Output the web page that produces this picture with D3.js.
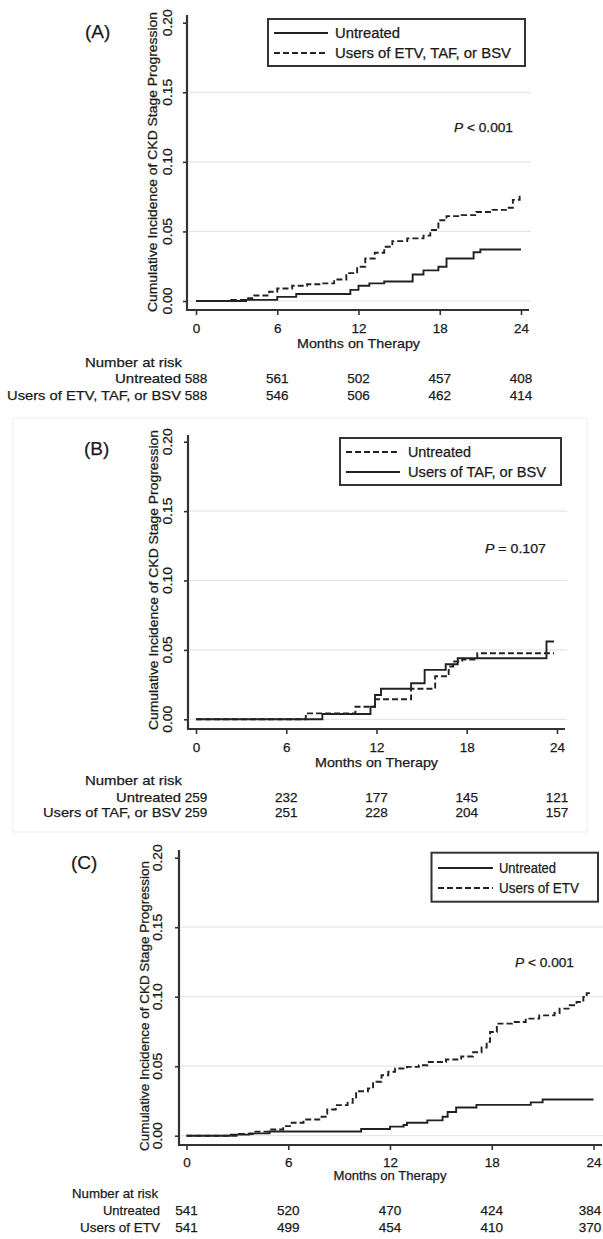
<!DOCTYPE html>
<html>
<head>
<meta charset="utf-8">
<script src="https://cdn.jsdelivr.net/npm/d3@7"></script>
<style>
html,body{margin:0;padding:0;background:#fff;}
svg{display:block;}
text{font-family:"Liberation Sans",Arial,sans-serif;fill:#1a1a1a;stroke:#1a1a1a;stroke-width:0.25px;}
</style>
</head>
<body>
<svg id="chart" width="603" height="1239"></svg>
<script>
// ---------- DATA ----------
const monthTicks = [0, 6, 12, 18, 24];
const yTicks = [0, 0.05, 0.10, 0.15, 0.20];
const yTickLabels = ["0.00", "0.05", "0.10", "0.15", "0.20"];
const gridValues = [0, 0.05, 0.10, 0.15];
const panelLabels = ["(A)", "(B)", "(C)"];
const pValues = ["P < 0.001", "P = 0.107", "P < 0.001"];
const yTitle = "Cumulative Incidence of CKD Stage Progression";
const xTitle = "Months on Therapy";
const riskTitle = "Number at risk";

// Panel A
const legendA = ["Untreated", "Users of ETV, TAF, or BSV"];
const untreatedA = [[0,0],[3.7,0.0008],[6,0.003],[7.4,0.005],[11.4,0.008],[12,0.011],[12.8,0.0127],[13.9,0.014],[16,0.019],[16.8,0.022],[17.9,0.0246],[18.5,0.0305],[20.5,0.035],[21,0.037],[24,0.037]];
const usersA = [[0,0],[2.6,0.0008],[3.7,0.002],[4.3,0.004],[5.4,0.0067],[6,0.009],[7.1,0.011],[8.2,0.012],[9.4,0.0127],[10.2,0.0155],[11.1,0.02],[11.9,0.0246],[12.5,0.0305],[13.2,0.0347],[13.9,0.039],[14.5,0.043],[15.6,0.045],[16.8,0.047],[17.3,0.051],[17.9,0.058],[18.5,0.061],[19.6,0.0617],[20.7,0.064],[21.9,0.0655],[23,0.067],[23.4,0.0727],[23.9,0.076],[24,0.076]];
const riskRowsA = ["Untreated", "Users of ETV, TAF, or BSV"];
const riskUntreatedA = [588, 561, 502, 457, 408];
const riskUsersA = [588, 546, 506, 462, 414];

// Panel B
const legendB = ["Untreated", "Users of TAF, or BSV"];
const untreatedB = [[0,0],[7.3,0.0043],[10.6,0.009],[11.9,0.0144],[14.3,0.022],[15.9,0.031],[16.8,0.038],[17.1,0.0416],[17.7,0.043],[18.7,0.0476],[23.8,0.0476]];
const usersB = [[0,0],[8.4,0.0038],[11.6,0.009],[11.9,0.0175],[12.3,0.022],[14.3,0.026],[15.2,0.0356],[16.6,0.0397],[17.4,0.044],[23.3,0.056],[23.8,0.056]];
const riskRowsB = ["Untreated", "Users of TAF, or BSV"];
const riskUntreatedB = [259, 232, 177, 145, 121];
const riskUsersB = [259, 251, 228, 204, 157];

// Panel C
const legendC = ["Untreated", "Users of ETV"];
const untreatedC = [[0,0],[2.6,0.0008],[3.7,0.0017],[4.9,0.003],[10.3,0.0048],[12,0.0065],[12.8,0.0077],[13,0.0093],[14.2,0.011],[15.1,0.0136],[15.4,0.017],[15.9,0.0203],[17.1,0.0222],[20.3,0.024],[21,0.026],[24,0.026]];
const usersC = [[0,0],[3.1,0.0012],[4,0.0029],[4.9,0.0045],[5.7,0.0069],[6.2,0.0093],[6.9,0.0117],[7.9,0.0136],[8.3,0.0189],[8.8,0.022],[9.5,0.0237],[9.8,0.0275],[10,0.032],[10.7,0.034],[11,0.0388],[11.5,0.0435],[11.9,0.046],[12.3,0.0483],[13,0.0495],[13.7,0.0507],[14.2,0.053],[15.3,0.0548],[16.2,0.057],[16.9,0.06],[17.4,0.0634],[17.7,0.0675],[17.9,0.0746],[18.3,0.0806],[19.2,0.0818],[20,0.0842],[20.8,0.0866],[21.7,0.0883],[22,0.0914],[22.6,0.0938],[23,0.0962],[23.4,0.0998],[23.6,0.1026],[23.8,0.1026]];
const riskRowsC = ["Untreated", "Users of ETV"];
const riskUntreatedC = [541, 520, 470, 424, 384];
const riskUsersC = [541, 499, 454, 410, 370];

// ---------- LAYOUT ----------
const svg = d3.select("#chart");

// faint frame around panel B (scan artifact)
svg.append("rect").attr("x", 13).attr("y", 418).attr("width", 574).attr("height", 414)
  .attr("fill", "none").attr("stroke", "#eeeeee").attr("stroke-width", 1);

const panels = [
  { label: panelLabels[0], labelX: 85, labelY: 38,
    axisX: 187, x0: 196, x24: 521, xEnd: 529, y0: 301, y20: 22.7, yTop: 15, xAxisY: 310,
    yTitleX: 153, yTitleMid: 162, yTitleLen: 300, tickLabelX: 168,
    xLabelY: 328, xTitleY: 343, xTitleLen: 123,
    legend: { x1: 268, x2: 525, y1: 19, y2: 66, lx1: 274, lx2: 328, tx: 335, rows: [33, 53], lens: [65, 176] },
    entries: legendA, series: [untreatedA, usersA], dashed: [false, true],
    p: pValues[0], pX: 454, pY: 132, pLen: 59,
    riskTitleX: 85, riskTitleY: 362, riskTitleLen: 97, riskRowY: [378, 395], riskLabelRight: 181,
    riskLabelLens: [66, 174],
    riskLabels: riskRowsA, riskVals: [riskUntreatedA, riskUsersA] },
  { label: panelLabels[1], labelX: 84, labelY: 455,
    axisX: 188, x0: 196, x24: 557, xEnd: 565, y0: 719.3, y20: 441.7, yTop: 435, xAxisY: 729,
    yTitleX: 154, yTitleMid: 580, yTitleLen: 300, tickLabelX: 168,
    xLabelY: 747, xTitleY: 762, xTitleLen: 123,
    legend: { x1: 340, x2: 561, y1: 438, y2: 485, lx1: 346, lx2: 400, tx: 408, rows: [452, 472], lens: [63, 138] },
    entries: legendB, series: [untreatedB, usersB], dashed: [true, false],
    p: pValues[1], pX: 485, pY: 553, pLen: 61,
    riskTitleX: 85, riskTitleY: 780, riskTitleLen: 97, riskRowY: [797, 812], riskLabelRight: 181,
    riskLabelLens: [65, 138],
    riskLabels: riskRowsB, riskVals: [riskUntreatedB, riskUsersB] },
  { label: panelLabels[2], labelX: 71, labelY: 869,
    axisX: 179, x0: 186.5, x24: 593.5, xEnd: 602, y0: 1135.7, y20: 857.7, yTop: 850, xAxisY: 1145,
    yTitleX: 145, yTitleMid: 1006, yTitleLen: 290, tickLabelX: 158,
    xLabelY: 1162, xTitleY: 1175, xTitleLen: 113,
    legend: { x1: 431.5, x2: 598, y1: 852.7, y2: 901.7, lx1: 438, lx2: 493, tx: 499, rows: [868, 888], lens: [57, 80] },
    entries: legendC, series: [untreatedC, usersC], dashed: [false, true],
    p: pValues[2], pX: 515, pY: 967, pLen: 59,
    riskTitleX: 72, riskTitleY: 1193, riskTitleLen: 86, riskRowY: [1210, 1227], riskLabelRight: 160,
    riskLabelLens: [57, 80],
    riskLabels: riskRowsC, riskVals: [riskUntreatedC, riskUsersC] }
];

panels.forEach(P => {
  const g = svg.append("g");
  const x = d3.scaleLinear().domain([0, 24]).range([P.x0, P.x24]);
  const y = d3.scaleLinear().domain([0, 0.20]).range([P.y0, P.y20]);

  // grid
  g.selectAll(".grid").data(gridValues).enter().append("line")
    .attr("x1", P.axisX + 2).attr("x2", P.xEnd + 2)
    .attr("y1", d => y(d)).attr("y2", d => y(d))
    .attr("stroke", "#e6e6e6").attr("stroke-width", 1.2);

  // x axis ticks and labels via d3 axis
  const xAxis = d3.axisBottom(x).tickValues(monthTicks).tickSize(5).tickSizeOuter(0);
  const xa = g.append("g").attr("transform", `translate(0,${P.xAxisY})`).call(xAxis);
  xa.select(".domain").remove();
  xa.selectAll(".tick line").attr("stroke", "#333").attr("stroke-width", 1.6);
  xa.selectAll(".tick text").attr("font-size", 13.5).attr("fill", "#1a1a1a")
    .attr("font-family", "Liberation Sans, Arial, sans-serif").attr("dy", "0.35em")
    .attr("y", P.xLabelY - P.xAxisY);

  // y axis ticks via d3 axis (labels drawn rotated)
  const yAxis = d3.axisLeft(y).tickValues(yTicks).tickSize(4).tickSizeOuter(0).tickFormat("");
  const ya = g.append("g").attr("transform", `translate(${P.axisX},0)`).call(yAxis);
  ya.select(".domain").remove();
  ya.selectAll(".tick line").attr("stroke", "#333").attr("stroke-width", 1.6);

  g.selectAll(".ytl").data(yTicks).enter().append("text")
    .attr("x", P.tickLabelX).attr("y", d => y(d))
    .attr("transform", d => `rotate(-90,${P.tickLabelX},${y(d)})`)
    .attr("text-anchor", "middle").attr("dy", "0.35em")
    .attr("font-size", 12).attr("textLength", 27).attr("lengthAdjust", "spacingAndGlyphs")
    .text((d, i) => yTickLabels[i]);

  // axis lines
  g.append("line").attr("x1", P.axisX).attr("x2", P.axisX).attr("y1", P.yTop).attr("y2", P.xAxisY + 1)
    .attr("stroke", "#333").attr("stroke-width", 2.2);
  g.append("line").attr("x1", P.axisX - 1).attr("x2", P.xEnd).attr("y1", P.xAxisY).attr("y2", P.xAxisY)
    .attr("stroke", "#333").attr("stroke-width", 2.2);

  // axis titles
  g.append("text").attr("x", P.yTitleX).attr("y", P.yTitleMid)
    .attr("transform", `rotate(-90,${P.yTitleX},${P.yTitleMid})`)
    .attr("text-anchor", "middle").attr("dy", "0.35em").attr("font-size", 12)
    .attr("textLength", P.yTitleLen).attr("lengthAdjust", "spacingAndGlyphs")
    .text(yTitle);
  g.append("text").attr("x", x(12)).attr("y", P.xTitleY).attr("dy", "0.35em").attr("text-anchor", "middle")
    .attr("font-size", 13.5).attr("textLength", P.xTitleLen).attr("lengthAdjust", "spacingAndGlyphs")
    .text(xTitle);

  // curves
  const line = d3.line().x(d => x(d[0])).y(d => y(d[1])).curve(d3.curveStepAfter);
  P.series.forEach((s, i) => {
    g.append("path").datum(s).attr("d", line).attr("fill", "none")
      .attr("stroke", "#222").attr("stroke-width", 1.9)
      .attr("stroke-dasharray", P.dashed[i] ? "6,3" : null);
  });

  // legend
  const L = P.legend;
  g.append("rect").attr("x", L.x1).attr("y", L.y1).attr("width", L.x2 - L.x1).attr("height", L.y2 - L.y1)
    .attr("fill", "#fff").attr("stroke", "#333").attr("stroke-width", 2);
  P.entries.forEach((e, i) => {
    g.append("line").attr("x1", L.lx1).attr("x2", L.lx2).attr("y1", L.rows[i]).attr("y2", L.rows[i])
      .attr("stroke", "#222").attr("stroke-width", 1.9)
      .attr("stroke-dasharray", P.dashed[i] ? "6,3" : null);
    g.append("text").attr("x", L.tx).attr("y", L.rows[i]).attr("dy", "0.35em")
      .attr("font-size", 14).attr("textLength", L.lens[i]).attr("lengthAdjust", "spacingAndGlyphs")
      .text(e);
  });

  // p value
  const pt = g.append("text").attr("x", P.pX).attr("y", P.pY).attr("font-size", 12.5)
    .attr("textLength", P.pLen).attr("lengthAdjust", "spacingAndGlyphs");
  pt.append("tspan").attr("font-style", "italic").text(P.p.slice(0, 1));
  pt.append("tspan").text(P.p.slice(1));

  // panel label
  g.append("text").attr("x", P.labelX).attr("y", P.labelY).attr("font-size", 19)
    .attr("font-family", "Open Sans, Liberation Sans, sans-serif").text(P.label);

  // number at risk
  g.append("text").attr("x", P.riskTitleX).attr("y", P.riskTitleY).attr("dy", "0.35em")
    .attr("font-size", 13.5).attr("textLength", P.riskTitleLen).attr("lengthAdjust", "spacingAndGlyphs")
    .text(riskTitle);
  P.riskLabels.forEach((lab, i) => {
    g.append("text").attr("x", P.riskLabelRight).attr("y", P.riskRowY[i]).attr("dy", "0.35em")
      .attr("text-anchor", "end").attr("font-size", 13.5)
      .attr("textLength", P.riskLabelLens[i]).attr("lengthAdjust", "spacingAndGlyphs").text(lab);
    g.selectAll(null).data(P.riskVals[i]).enter().append("text")
      .attr("x", (d, j) => Math.min(x(monthTicks[j]), 590)).attr("y", P.riskRowY[i]).attr("dy", "0.35em")
      .attr("text-anchor", "middle").attr("font-size", 13.5).text(d => d);
  });
});
</script>
</body>
</html>
